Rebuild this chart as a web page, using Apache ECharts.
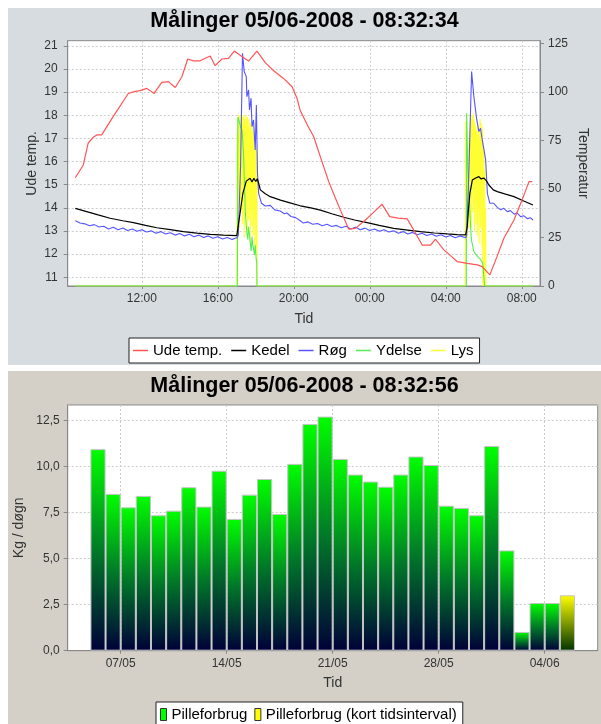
<!DOCTYPE html>
<html>
<head>
<meta charset="utf-8">
<script src="https://cdn.jsdelivr.net/npm/echarts@6/dist/echarts.min.js"></script>
<style>
html,body{margin:0;padding:0;background:#fff;width:601px;height:724px;overflow:hidden;}
#c1{position:absolute;left:8px;top:8px;width:593px;height:357px;}
#c2{position:absolute;left:8px;top:371px;width:593px;height:360px;}
</style>
</head>
<body>
<div id="c1"></div>
<div id="c2"></div>
<script>
// ---------- Chart 1: measurements over 24h (time in hours since 04/06 00:00) ----------
const title1 = 'Målinger 05/06-2008 - 08:32:34';
const xTickHours = [12, 16, 20, 24, 28, 32];
const leftTicks = [11, 12, 13, 14, 15, 16, 17, 18, 19, 20, 21];

const udeTemp = [[8.5,15.3],[8.92,15.85],[9.18,16.8],[9.45,17.05],[9.63,17.15],[9.89,17.15],[10.5,17.95],[11.29,18.94],[11.6,19.02],[11.91,19.06],[12.26,19.16],[12.65,18.94],[13.05,19.42],[13.4,19.45],[13.76,19.2],[14.11,19.66],[14.42,20.43],[14.72,20.35],[15.07,20.35],[15.6,20.56],[15.86,20.14],[16.22,20.43],[16.56,20.46],[16.87,20.77],[17.25,20.55],[17.62,20.34],[18.06,20.77],[18.5,20.27],[18.94,19.92],[19.46,19.59],[19.91,19.23],[20.17,18.73],[20.34,18.2],[20.7,17.6],[21.05,17.07],[21.4,16.2],[21.84,15.13],[22.15,14.5],[22.45,13.91],[22.89,13.08],[23.24,13.11],[23.77,13.47],[24.2,13.8],[24.65,14.15],[25.05,13.62],[25.5,13.55],[25.97,13.52],[26.41,12.9],[26.76,12.39],[27.2,12.39],[27.46,12.64],[27.9,12.18],[28.3,11.9],[28.61,11.67],[29.13,11.6],[29.66,11.53],[29.92,11.46],[30.32,11.1],[30.7,11.9],[31.06,12.68],[31.59,13.47],[32.0,14.3],[32.38,15.13],[32.55,15.13]];

const kedel = [[8.5,40.0],[9.1,38.3],[9.7,36.6],[10.33,34.9],[11.0,33.6],[11.56,32.6],[12.2,31.2],[12.79,30.0],[13.5,29.0],[14.19,28.0],[14.9,27.2],[15.6,26.6],[16.3,26.2],[17.0,25.9],[17.08,26.5],[17.22,40.8],[17.32,47.7],[17.5,54.0],[17.6,53.5],[17.7,55.5],[17.8,53.5],[17.9,55.5],[18.0,53.8],[18.08,55.2],[18.15,52.9],[18.24,49.5],[18.5,47.5],[18.76,46.0],[19.3,44.2],[19.8,42.8],[20.34,41.3],[20.9,40.2],[21.4,39.1],[22.0,37.2],[22.63,35.4],[23.2,34.0],[23.86,32.6],[24.5,31.2],[25.26,29.7],[26.0,28.8],[26.67,28.0],[27.4,27.3],[28.08,26.8],[28.6,26.5],[29.04,26.3],[29.13,30.5],[29.2,40],[29.27,47.7],[29.4,54.6],[29.55,55.5],[29.74,56.3],[29.85,55.2],[30.01,55.5],[30.15,54],[30.27,52.0],[30.5,49.5],[30.71,48.6],[31.1,47.4],[31.59,46.0],[32.1,43.8],[32.59,41.7]];

const roeg = [[8.5,33.6],[8.75,32.4],[9.0,32.0],[9.25,31.0],[9.5,31.6],[9.75,30.4],[10.0,30.8],[10.25,29.4],[10.5,30.2],[10.75,29.0],[11.0,29.9],[11.25,28.6],[11.5,29.4],[11.75,28.2],[12.0,29.0],[12.25,27.8],[12.5,28.4],[12.75,27.2],[13.0,28.0],[13.25,26.8],[13.5,27.4],[13.75,26.2],[14.0,27.0],[14.25,25.8],[14.5,26.6],[14.75,25.4],[15.0,26.2],[15.25,25.0],[15.5,25.8],[15.75,24.6],[16.0,25.4],[16.25,24.2],[16.5,25.0],[16.75,24.0],[17.0,24.8],[17.08,26],[17.2,62],[17.3,119.8],[17.39,110.4],[17.5,107.8],[17.53,97.5],[17.62,101],[17.67,90.6],[17.75,96.7],[17.8,82],[17.88,85.5],[17.94,75.2],[17.97,70],[18.03,93.2],[18.09,58.2],[18.15,47.7],[18.3,42.6],[18.5,41.2],[18.76,41.5],[19.0,39.2],[19.29,38.6],[19.5,37.2],[19.64,37.6],[19.85,35.8],[20.1,35.2],[20.34,33.6],[20.5,32.4],[20.75,33.0],[21.0,31.8],[21.25,32.2],[21.5,31.0],[21.75,31.8],[22.0,30.6],[22.25,31.2],[22.5,30.0],[22.75,30.8],[23.0,29.4],[23.25,30.2],[23.5,29.0],[23.75,29.8],[24.0,28.6],[24.25,29.4],[24.5,28.2],[24.75,29.0],[25.0,27.8],[25.25,28.4],[25.5,27.2],[25.75,28.0],[26.0,26.8],[26.25,27.6],[26.5,26.4],[26.75,27.2],[27.0,26.0],[27.25,26.8],[27.5,25.6],[27.75,26.4],[28.0,25.2],[28.25,26.0],[28.5,24.8],[28.75,25.8],[29.04,24.8],[29.1,26],[29.22,60],[29.36,110.4],[29.48,97.5],[29.55,92],[29.62,86.4],[29.74,79.5],[29.83,81.2],[29.92,75.2],[30.0,70.9],[30.1,64.9],[30.19,47.7],[30.32,42.6],[30.53,42.6],[30.71,40.5],[30.89,39.2],[31.05,40],[31.24,38.3],[31.4,38.8],[31.6,37],[31.75,37.6],[31.94,35.7],[32.1,36.2],[32.3,34.6],[32.45,35.2],[32.59,34]];

const ydelse = [[8.5,0],[17.03,0],[17.06,87],[17.12,85],[17.2,82],[17.28,80],[17.36,66.6],[17.45,37.6],[17.53,27.3],[17.58,24],[17.62,30.5],[17.67,26],[17.71,22],[17.76,18],[17.8,25.4],[17.84,21],[17.88,19.4],[17.93,16],[17.97,21.1],[18.02,14],[18.05,12],[18.06,0],[29.08,0],[29.1,88.9],[29.16,60],[29.22,47.7],[29.3,32],[29.35,23.7],[29.48,17.7],[29.6,16],[29.66,15.1],[29.8,14],[29.83,13.4],[29.95,11.7],[30.02,11.5],[30.04,0],[32.59,0]];

const lys = [[8.5,0],[17.0,0],[17.01,30],[17.02,78],[17.03,35],[17.05,86],[17.07,40],[17.09,88],[17.11,50],[17.13,87],[17.15,30],[17.17,88],[17.19,45],[17.21,85],[17.23,38],[17.25,89],[17.27,55],[17.29,84],[17.31,32],[17.33,87],[17.35,48],[17.37,88],[17.39,25],[17.41,86],[17.43,42],[17.45,83],[17.47,36],[17.49,88],[17.51,52],[17.53,85],[17.55,28],[17.57,87],[17.59,46],[17.61,82],[17.63,34],[17.65,86],[17.67,50],[17.69,80],[17.71,22],[17.73,84],[17.75,40],[17.77,79],[17.79,31],[17.81,83],[17.83,45],[17.85,76],[17.87,26],[17.89,80],[17.91,38],[17.93,74],[17.95,18],[17.97,78],[17.99,35],[18.01,72],[18.03,20],[18.05,70],[18.07,0],[29.03,0],[29.05,85],[29.07,15],[29.09,89],[29.11,30],[29.13,70],[29.15,25],[29.17,60],[29.19,30],[29.21,75],[29.23,40],[29.25,80],[29.27,35],[29.29,84],[29.31,45],[29.33,88],[29.35,30],[29.37,86],[29.39,50],[29.41,88],[29.43,38],[29.45,89],[29.47,55],[29.49,86],[29.51,28],[29.53,84],[29.55,44],[29.57,82],[29.59,32],[29.61,80],[29.63,48],[29.65,78],[29.67,26],[29.69,83],[29.71,40],[29.73,80],[29.75,22],[29.77,76],[29.79,38],[29.81,86],[29.83,30],[29.85,84],[29.87,45],[29.89,80],[29.91,20],[29.93,82],[29.95,0],[29.97,74],[29.99,25],[30.01,70],[30.03,0],[30.05,60],[30.07,15],[30.09,40],[30.11,0],[32.59,0]];

// ---------- Chart 2: daily pellet consumption ----------
const title2 = 'Målinger 05/06-2008 - 08:32:56';
const dayLabels = ['05/05','06/05','07/05','08/05','09/05','10/05','11/05','12/05','13/05','14/05','15/05','16/05','17/05','18/05','19/05','20/05','21/05','22/05','23/05','24/05','25/05','26/05','27/05','28/05','29/05','30/05','31/05','01/06','02/06','03/06','04/06'];
const pilleValues = [10.95,8.52,7.79,8.41,7.36,7.61,8.88,7.83,9.78,7.16,8.48,9.33,7.43,10.15,12.32,12.72,10.42,9.57,9.19,8.91,9.57,10.55,10.09,7.88,7.76,7.36,11.12,5.45,1.02,2.59,2.59];
const shortLabels = ['05/06'];
const shortValues = [3.01];
const dateTickLabels = ['07/05','14/05','21/05','28/05','04/06'];

const FONT = 'Liberation Sans, Arial, sans-serif';
function dayNum(lbl){ const p = lbl.split('/'); const d = +p[0], m = +p[1]; return m === 5 ? d : 31 + d; }
function dayLabel(n){ return n <= 31 ? String(n).padStart(2,'0') + '/05' : String(n-31).padStart(2,'0') + '/06'; }

const gridLine = { show: true, lineStyle: { color: '#cccccc', type: [2, 2], width: 1 } };
const axisLineStyle = { show: true, lineStyle: { color: '#888', width: 1 } };
const labelStyle = { color: '#333', fontSize: 12, fontFamily: FONT };
const nameStyle = { color: '#333', fontSize: 14, fontFamily: FONT };

const c1 = echarts.init(document.getElementById('c1'), null, { renderer: 'canvas' });
function lineSeries(name, data, color, yi, z, w) {
  return { name, type: 'line', data, yAxisIndex: yi, showSymbol: false, symbol: 'none', z,
    color, lineStyle: { color, width: w }, itemStyle: { color }, silent: true, animation: false };
}
c1.setOption({
  animation: false,
  backgroundColor: '#d6dcdf',
  textStyle: { fontFamily: FONT },
  title: { text: title1, left: 'center', top: 2, padding: 0,
    textStyle: { fontFamily: FONT, fontSize: 21.5, fontWeight: 'bold', color: '#000' } },
  legend: {
    data: ['Ude temp.', 'Kedel', 'Røg', 'Ydelse', 'Lys'],
    left: 121, top: 330, icon: 'rect', itemWidth: 15, itemHeight: 1.5, itemGap: 9,
    padding: [5, 6, 5, 4], backgroundColor: '#fff', borderColor: '#222', borderWidth: 1, borderRadius: 0,
    textStyle: { fontSize: 15, color: '#000', fontFamily: FONT }
  },
  grid: { left: 59.7, right: 61, top: 32.7, bottom: 79, show: true, backgroundColor: '#fff', borderColor: '#888', borderWidth: 1,
    containLabel: false, outerBoundsMode: 'none' },
  xAxis: {
    type: 'value', min: 8.1, max: 32.96,
    name: 'Tid', nameLocation: 'middle', nameGap: 26, nameMoveOverlap: false, nameTextStyle: nameStyle,
    axisLine: axisLineStyle,
    axisTick: { show: true, customValues: xTickHours, length: 3, lineStyle: { color: '#888' } },
    axisLabel: Object.assign({ customValues: xTickHours, margin: 7,
      formatter: v => String(Math.round(v) % 24).padStart(2, '0') + ':00' }, labelStyle),
    splitLine: gridLine
  },
  yAxis: [
    { type: 'value', position: 'left', min: 10.62, max: 21.22,
      name: 'Ude temp.', nameLocation: 'middle', nameGap: 29, nameMoveOverlap: false, nameRotate: 90, nameTextStyle: nameStyle,
      axisLine: axisLineStyle,
      axisTick: { show: true, customValues: leftTicks, length: 4, lineStyle: { color: '#888' } },
      axisLabel: Object.assign({ customValues: leftTicks, margin: 10 }, labelStyle),
      splitLine: gridLine },
    { type: 'value', position: 'right', min: 0, max: 126.3, interval: 25,
      name: 'Temperatur', nameLocation: 'middle', nameGap: 36, nameMoveOverlap: false, nameRotate: -90, nameTextStyle: nameStyle,
      axisLine: axisLineStyle,
      axisTick: { show: true, length: 4, lineStyle: { color: '#888' } },
      axisLabel: Object.assign({ margin: 8, showMaxLabel: false }, labelStyle),
      splitLine: { show: false } }
  ],
  series: [
    lineSeries('Ude temp.', udeTemp, '#ff5555', 0, 7, 1.2),
    lineSeries('Kedel', kedel, '#000000', 1, 6, 1.2),
    lineSeries('Røg', roeg, '#5555ff', 1, 5, 1.1),
    lineSeries('Ydelse', ydelse, '#55ee55', 1, 4, 1.1),
    lineSeries('Lys', lys, '#ffff33', 1, 3, 1.2)
  ]
});

const c2 = echarts.init(document.getElementById('c2'), null, { renderer: 'canvas' });
const greenGrad = new echarts.graphic.LinearGradient(0, 0, 0, 1, [
  { offset: 0, color: '#00ff00' }, { offset: 0.5, color: '#007a28' }, { offset: 1, color: '#000038' }]);
const yellowGrad = new echarts.graphic.LinearGradient(0, 0, 0, 1, [
  { offset: 0, color: '#ffff00' }, { offset: 0.5, color: '#7f9a00' }, { offset: 1, color: '#003300' }]);
c2.setOption({
  animation: false,
  backgroundColor: '#d4d0c8',
  textStyle: { fontFamily: FONT },
  title: { text: title2, left: 'center', top: 4, padding: 0,
    textStyle: { fontFamily: FONT, fontSize: 21.5, fontWeight: 'bold', color: '#000' } },
  legend: {
    data: [
      { name: 'Pilleforbrug', itemStyle: { color: '#00ff00', borderColor: '#333', borderWidth: 1 } },
      { name: 'Pilleforbrug (kort tidsinterval)', itemStyle: { color: '#ffff00', borderColor: '#333', borderWidth: 1 } }
    ],
    left: 148, top: 331, icon: 'rect', itemWidth: 6, itemHeight: 12, itemGap: 7,
    padding: [5, 6, 5, 4], backgroundColor: '#fff', borderColor: '#222', borderWidth: 1,
    textStyle: { fontSize: 15, color: '#000', fontFamily: FONT }
  },
  grid: { left: 59.7, right: 3.3, top: 34, bottom: 80.3, show: true, backgroundColor: '#fff', borderColor: '#888', borderWidth: 1,
    containLabel: false, outerBoundsMode: 'none' },
  xAxis: {
    type: 'value', min: 3.5, max: 38.5,
    name: 'Tid', nameLocation: 'middle', nameGap: 25, nameMoveOverlap: false, nameTextStyle: nameStyle,
    axisLine: axisLineStyle,
    axisTick: { show: true, customValues: dateTickLabels.map(dayNum), length: 3, lineStyle: { color: '#888' } },
    axisLabel: Object.assign({ customValues: dateTickLabels.map(dayNum), margin: 7, formatter: v => dayLabel(Math.round(v)) }, labelStyle),
    splitLine: gridLine
  },
  yAxis: {
    type: 'value', min: 0, max: 13.35, interval: 2.5,
    name: 'Kg / døgn', nameLocation: 'middle', nameGap: 42, nameMoveOverlap: false, nameRotate: 90, nameTextStyle: nameStyle,
    axisLine: axisLineStyle,
    axisTick: { show: true, length: 4, lineStyle: { color: '#888' } },
    axisLabel: Object.assign({ margin: 8, showMaxLabel: false, formatter: v => v.toFixed(1).replace('.', ',') }, labelStyle),
    splitLine: gridLine
  },
  series: [
    { name: 'Pilleforbrug', type: 'bar', barWidth: '100%', barGap: '-100%',
      data: dayLabels.map((d, i) => [dayNum(d) + 0.5, pilleValues[i]]),
      itemStyle: { color: greenGrad, borderColor: '#c4c4c4', borderWidth: 1 }, silent: true },
    { name: 'Pilleforbrug (kort tidsinterval)', type: 'bar', barWidth: '100%', barGap: '-100%',
      data: shortLabels.map((d, i) => [dayNum(d) + 0.5, shortValues[i]]),
      itemStyle: { color: yellowGrad, borderColor: '#c4c4c4', borderWidth: 1 }, silent: true }
  ]
});
</script>
</body>
</html>
